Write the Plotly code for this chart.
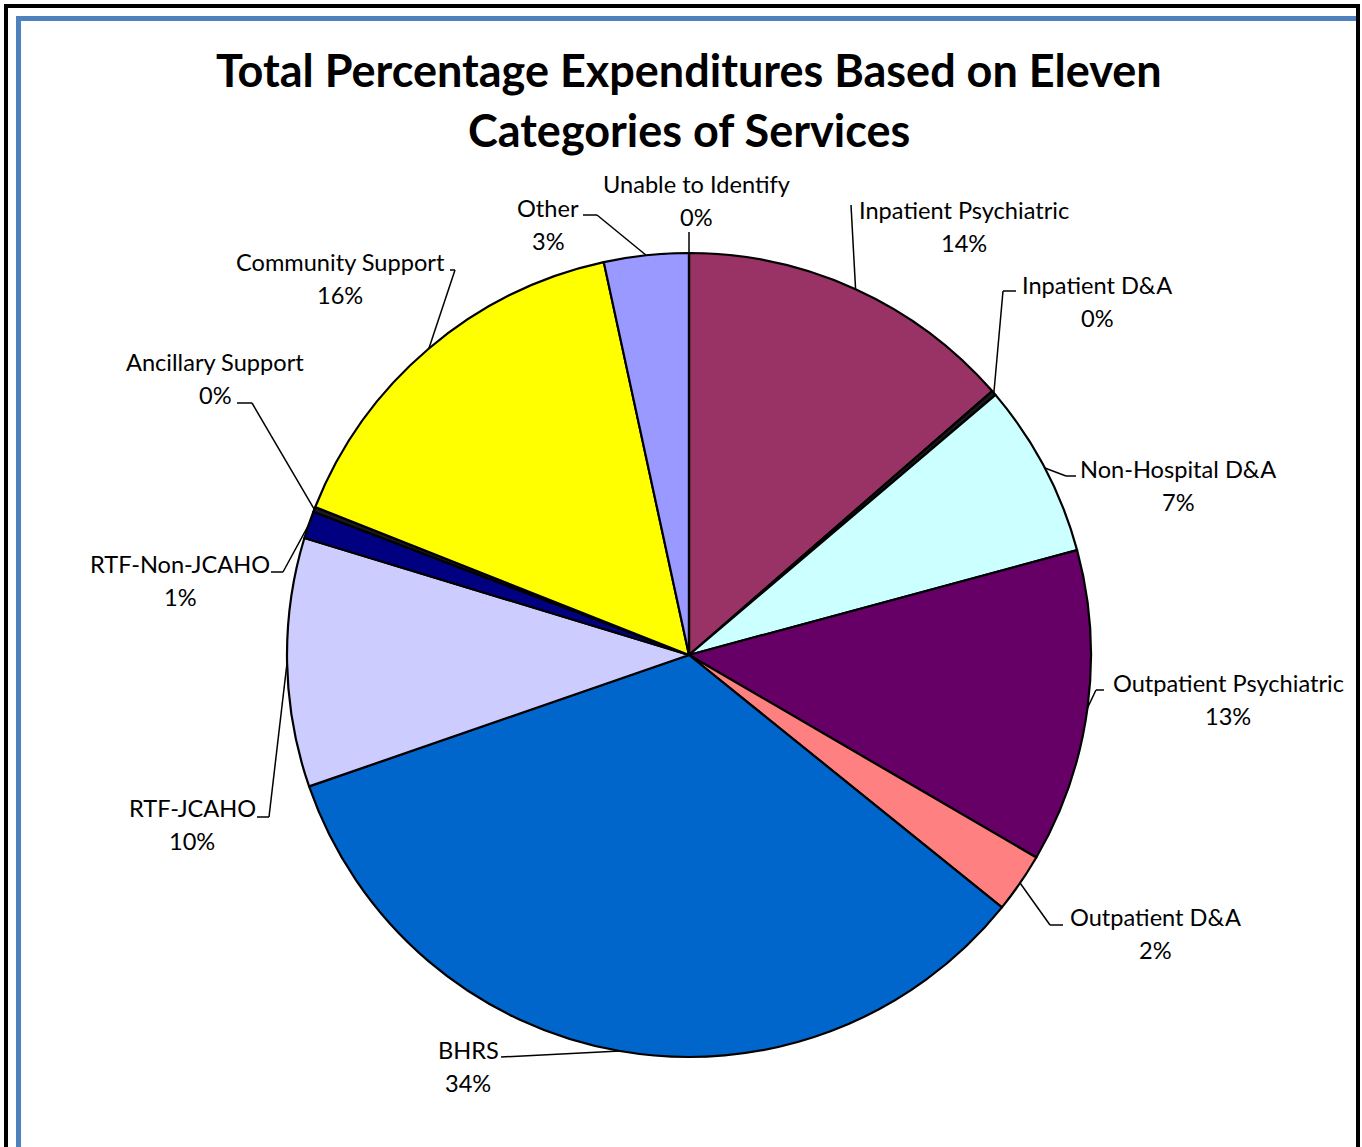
import math
import plotly.graph_objects as go

W, H = 1362, 1147

categories = ["Inpatient Psychiatric", "Inpatient D&A", "Non-Hospital D&A",
              "Outpatient Psychiatric", "Outpatient D&A", "BHRS", "RTF-JCAHO",
              "RTF-Non-JCAHO", "Ancillary Support", "Community Support",
              "Other", "Unable to Identify"]
values = [13.6, 0.2, 7.0, 12.6, 2.4, 33.9, 10.0, 1.1, 0.2, 15.6, 3.4, 0.0]
colors = ["#993366", "#1A1A1A", "#CCFFFF", "#660066", "#FF8080", "#0066CC",
          "#CCCCFF", "#000080", "#1A1A1A", "#FFFF00", "#9999FF", "#00FFFF"]

# label layout: (text centre x, first line y, leader start x, leader start y, elbow x)
label_pos = {
    "Inpatient Psychiatric": (964, 210, 851, 205, None),
    "Inpatient D&A": (1097, 285, 1016, 291, 1003),
    "Non-Hospital D&A": (1178, 469, 1076, 476, 1066),
    "Outpatient Psychiatric": (1228, 683, 1104, 690, 1096),
    "Outpatient D&A": (1155, 917, 1063, 925, 1050),
    "BHRS": (468, 1050, 501, 1057, None),
    "RTF-JCAHO": (192, 808, 257, 817, 269),
    "RTF-Non-JCAHO": (180, 564, 271, 572, 283),
    "Ancillary Support": (215, 362, 237, 403, 252),
    "Community Support": (340, 262, 450, 270, 455),
    "Other": (548, 208, 583, 215, 597),
    "Unable to Identify": (696, 184, 689, 232, None),
}

CX, CY, R = 689, 655, 402
FONT = "Lato"


def px(x):
    return x / W


def py(y):
    return 1 - y / H


fig = go.Figure(go.Pie(
    labels=categories, values=values, sort=False, direction="clockwise",
    rotation=0, textinfo="none", hoverinfo="label+percent",
    marker=dict(colors=colors, line=dict(color="black", width=2.2)),
    domain=dict(x=[px(CX - R), px(CX + R)], y=[py(CY + R), py(CY - R)]),
    showlegend=False,
))

annotations = []
shapes = []
total = sum(values)
cum = 0.0
for cat, v in zip(categories, values):
    mid = (cum + v / 2) / total * 2 * math.pi
    cum += v
    ex = CX + R * math.sin(mid)
    ey = CY - R * math.cos(mid)
    tx, ty, lx, ly, elbow = label_pos[cat]
    pct = f"{round(v / total * 100)}%"
    for i, t in enumerate([cat, pct]):
        annotations.append(dict(
            x=px(tx), y=py(ty + i * 33), xref="paper", yref="paper",
            text=t, showarrow=False, xanchor="center", yanchor="middle",
            font=dict(family=FONT, size=23.6, color="black")))
    sx, sy = lx, ly
    if elbow is not None:
        shapes.append(dict(type="line", xref="paper", yref="paper",
                           x0=px(lx), y0=py(ly), x1=px(elbow), y1=py(ly),
                           line=dict(color="black", width=1.5)))
        sx = elbow
    shapes.append(dict(type="line", xref="paper", yref="paper",
                       x0=px(sx), y0=py(sy), x1=px(ex), y1=py(ey),
                       line=dict(color="black", width=1.5)))

# title
annotations.append(dict(x=px(689), y=py(70), xref="paper", yref="paper",
                        text="<b>Total Percentage Expenditures Based on Eleven</b>",
                        showarrow=False, xanchor="center", yanchor="middle",
                        font=dict(family=FONT, size=45, color="black")))
annotations.append(dict(x=px(689), y=py(130), xref="paper", yref="paper",
                        text="<b>Categories of Services</b>",
                        showarrow=False, xanchor="center", yanchor="middle",
                        font=dict(family=FONT, size=45, color="black")))

# frame: black outer and blue inner borders
shapes += [
    dict(type="line", xref="paper", yref="paper", x0=px(6), y0=py(6), x1=px(1358), y1=py(6),
         line=dict(color="black", width=4)),
    dict(type="line", xref="paper", yref="paper", x0=px(6), y0=py(4), x1=px(6), y1=py(1160),
         line=dict(color="black", width=4)),
    dict(type="line", xref="paper", yref="paper", x0=px(18.5), y0=py(18.5), x1=px(1356), y1=py(18.5),
         line=dict(color="#4F81BD", width=5)),
    dict(type="line", xref="paper", yref="paper", x0=px(18.5), y0=py(16), x1=px(18.5), y1=py(1160),
         line=dict(color="#4F81BD", width=5)),
    dict(type="line", xref="paper", yref="paper", x0=px(1358), y0=py(4), x1=px(1358), y1=py(1160),
         line=dict(color="black", width=4)),
]

fig.update_layout(
    width=W, height=H, margin=dict(l=0, r=0, t=0, b=0),
    paper_bgcolor="white", plot_bgcolor="white",
    annotations=annotations, shapes=shapes,
)

fig.write_html("out.html")
